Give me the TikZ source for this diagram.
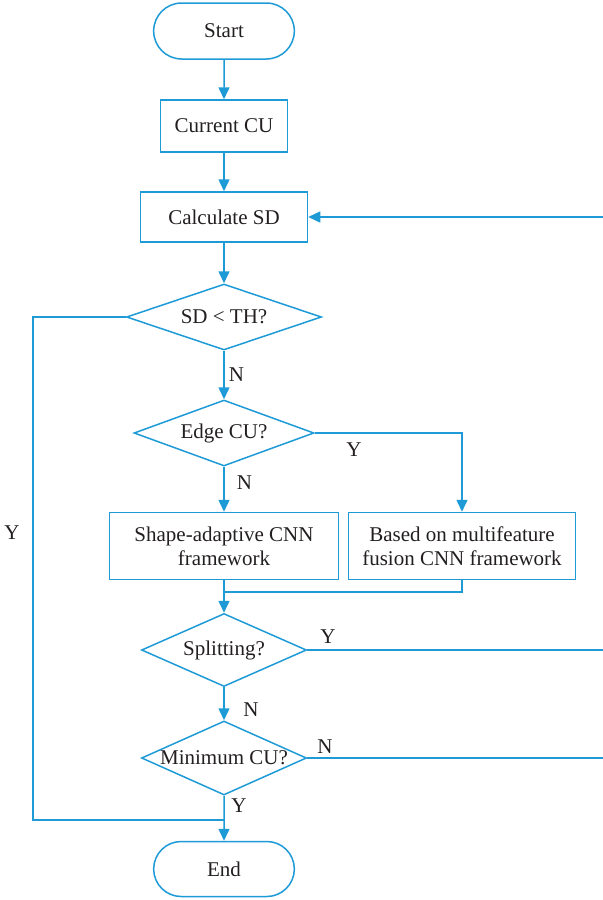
\documentclass[tikz,border=0pt]{standalone}
\usepackage{fontspec}
\setmainfont{Liberation Serif}
\usetikzlibrary{shapes.geometric,shapes.misc,arrows.meta}
\definecolor{flowblue}{HTML}{1E9BD7}
\definecolor{ink}{HTML}{231F20}
\newcommand{\dtext}[1]{\makebox[0pt]{#1}}
\begin{document}
\begin{tikzpicture}[x=0.5pt,y=-0.5pt,
  every node/.style={text=ink,font=\fontsize{10.5}{12}\selectfont},
  terminal/.style={draw=flowblue,line width=0.75pt,rounded rectangle,minimum width=77pt,minimum height=28pt},
  process/.style={draw=flowblue,line width=0.75pt,rectangle,align=center,inner sep=0pt},
  decision/.style={draw=flowblue,line width=0.75pt,diamond,inner sep=0pt},
  flow/.style={draw=flowblue,line width=0.75pt,-{Triangle[length=6pt,width=5.5pt]}},
  link/.style={draw=flowblue,line width=0.75pt}]
  \useasboundingbox (0,0) rectangle (603,900);
  \node[terminal] (start) at (224,31) {Start};
  \node[process,minimum width=63.5pt,minimum height=26pt] (cur) at (224,126) {Current CU};
  \node[process,minimum width=83.5pt,minimum height=25pt] (calc) at (224,217) {Calculate SD};
  \node[decision,minimum width=97.5pt,minimum height=33pt] (sdth) at (224,317) {\dtext{SD < TH?}};
  \node[decision,minimum width=90pt,minimum height=33pt] (edge) at (224,433) {\dtext{Edge CU?}};
  \node[process,minimum width=114.5pt,minimum height=33.5pt] (shape) at (224,546) {Shape-adaptive CNN\\framework};
  \node[process,minimum width=113.5pt,minimum height=33.5pt] (based) at (462,546) {Based on multifeature\\fusion CNN framework};
  \node[decision,minimum width=82.5pt,minimum height=36.5pt] (split) at (224,650) {\dtext{Splitting?}};
  \node[decision,minimum width=82.5pt,minimum height=37pt] (min) at (224,758) {\dtext{Minimum CU?}};
  \node[terminal,minimum height=27.5pt] (end) at (224,869) {End};
  \coordinate (rsd) at (603,217);
  \coordinate (rsplit) at (603,650);
  \coordinate (rmin) at (603,758);
  \coordinate (merge) at (224,592);
  \coordinate (loop) at (33,820);
  \coordinate (join) at (224,820);
  \draw[flow] (start) -- (cur);
  \draw[flow] (cur) -- (calc);
  \draw[flow] (calc) -- (sdth);
  \draw[flow] (rsd) -- (calc.east);
  \draw[flow] (sdth) -- (edge) node[pos=0.5,right,inner sep=2pt] (n1) {N};
  \draw[flow] (edge) -- (shape) node[pos=0.35,right,inner sep=6pt] (n2) {N};
  \draw[flow] (edge.east) -| (based.north);
  \node (y2) at (354,450) {Y};
  \draw[flow] (shape) -- (split);
  \draw[link] (based.south) |- (merge);
  \draw[link] (split.east) -- (rsplit);
  \node (y3) at (328,637) {Y};
  \draw[flow] (split) -- (min);
  \node (n3) at (251,710) {N};
  \draw[link] (min.east) -- (rmin);
  \node (n4) at (325,747) {N};
  \draw[flow] (min) -- (end);
  \node (y4) at (239,806) {Y};
  \draw[link] (sdth.west) -| (loop) -- (join);
  \node (y1) at (12,533) {Y};
\end{tikzpicture}
\end{document}
